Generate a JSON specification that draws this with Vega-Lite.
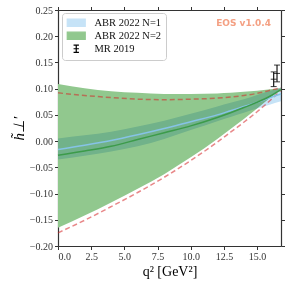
{
  "$schema": "https://vega.github.io/schema/vega-lite/v6.json",
  "autosize": "none",
  "width": 223,
  "height": 236,
  "padding": {"left": 58, "top": 10, "right": 9, "bottom": 44},
  "background": "white",
  "config": {
    "view": {"stroke": null},
    "axis": {
      "labelFont": "Liberation Serif", "labelFontSize": 10, "labelColor": "#333333",
      "domainColor": "#333333", "tickColor": "#333333", "domainWidth": 1.2,
      "tickWidth": 1, "tickSize": 3.5, "labelPadding": 2, "grid": false,
      "titleFont": "Liberation Serif", "titleFontWeight": "normal", "titleColor": "#000000"
    }
  },
  "datasets": {
    "bands": [
      {"q2": 0, "g_lo": -0.165, "g_hi": 0.109, "d_lo": -0.175, "d_hi": 0.092, "b_lo": -0.035, "b_hi": 0.005, "blue": -0.016, "green": -0.027},
      {"q2": 2, "g_lo": -0.142, "g_hi": 0.101, "d_lo": -0.151, "d_hi": 0.087, "b_lo": -0.028, "b_hi": 0.011, "blue": -0.008, "green": -0.019},
      {"q2": 4, "g_lo": -0.117, "g_hi": 0.095, "d_lo": -0.125, "d_hi": 0.083, "b_lo": -0.020, "b_hi": 0.018, "blue": 0.001, "green": -0.010},
      {"q2": 6, "g_lo": -0.091, "g_hi": 0.092, "d_lo": -0.098, "d_hi": 0.080, "b_lo": -0.010, "b_hi": 0.028, "blue": 0.012, "green": 0.003},
      {"q2": 8, "g_lo": -0.063, "g_hi": 0.090, "d_lo": -0.069, "d_hi": 0.079, "b_lo": 0.004, "b_hi": 0.039, "blue": 0.024, "green": 0.016},
      {"q2": 10, "g_lo": -0.031, "g_hi": 0.090, "d_lo": -0.037, "d_hi": 0.080, "b_lo": 0.021, "b_hi": 0.052, "blue": 0.037, "green": 0.029},
      {"q2": 12, "g_lo": 0.004, "g_hi": 0.091, "d_lo": -0.002, "d_hi": 0.082, "b_lo": 0.038, "b_hi": 0.066, "blue": 0.050, "green": 0.045},
      {"q2": 13, "g_lo": 0.023, "g_hi": 0.092, "d_lo": 0.017, "d_hi": 0.084, "b_lo": 0.046, "b_hi": 0.073, "blue": 0.058, "green": 0.054},
      {"q2": 14, "g_lo": 0.042, "g_hi": 0.094, "d_lo": 0.036, "d_hi": 0.087, "b_lo": 0.054, "b_hi": 0.080, "blue": 0.066, "green": 0.064},
      {"q2": 15, "g_lo": 0.062, "g_hi": 0.096, "d_lo": 0.056, "d_hi": 0.091, "b_lo": 0.062, "b_hi": 0.088, "blue": 0.074, "green": 0.074},
      {"q2": 16, "g_lo": 0.083, "g_hi": 0.099, "d_lo": 0.078, "d_hi": 0.097, "b_lo": 0.070, "b_hi": 0.096, "blue": 0.083, "green": 0.086},
      {"q2": 16.8, "g_lo": 0.099, "g_hi": 0.101, "d_lo": 0.097, "d_hi": 0.102, "b_lo": 0.076, "b_hi": 0.102, "blue": 0.090, "green": 0.098}
    ],
    "mr": [
      {"q2": 16.25, "lo": 0.104, "hi": 0.132, "c": 0.118},
      {"q2": 16.5, "lo": 0.113, "hi": 0.145, "c": 0.129}
    ]
  },
  "layer": [
    {
      "data": {"name": "bands"},
      "mark": {"type": "area", "interpolate": "monotone", "opacity": 1},
      "encoding": {
        "x": {"field": "q2", "type": "quantitative", "scale": {"domain": [0, 16.8], "nice": false, "zero": false},
              "axis": {"orient": "bottom", "values": [0, 2.5, 5, 7.5, 10, 12.5, 15], "format": ".1f", "title": "q² [GeV²]", "titleFontSize": 14, "titlePadding": 3}},
        "y": {"field": "g_lo", "type": "quantitative", "scale": {"domain": [-0.2, 0.25], "nice": false, "zero": false},
              "axis": {"orient": "left", "values": [-0.2, -0.15, -0.1, -0.05, 0, 0.05, 0.1, 0.15, 0.2, 0.25], "format": ".2f", "title": "h̃⊥′", "titleFontSize": 15, "titlePadding": 3, "titleFontStyle": "italic"}},
        "y2": {"field": "g_hi"},
        "color": {"datum": "ABR 2022 N=2", "type": "nominal",
          "scale": {"domain": ["ABR 2022 N=1", "ABR 2022 N=2", "MR 2019"], "range": ["#c6e3f7", "#91c88e", "#000000"]},
          "legend": {
            "orient": "none", "legendX": 4, "legendY": 3, "title": null,
            "padding": 4.5, "strokeColor": "#cccccc", "fillColor": "#ffffff", "cornerRadius": 3,
            "labelFont": "Liberation Serif", "labelFontSize": 10.5, "labelColor": "#111111",
            "symbolSize": 49, "symbolOffset": 4.5, "labelOffset": 13, "rowPadding": 0,
            "symbolOpacity": 1, "symbolStrokeWidth": 1.2,
            "symbolType": {"expr": "datum.value === 'MR 2019' ? 'M-0.77,-1.03H0.77M0,-1.03V1.03M-0.77,1.03H0.77M-0.77,0H0.77' : 'M-2.57,-1.03H2.57V1.03H-2.57Z'"},
            "symbolStrokeColor": {"expr": "datum.value === 'MR 2019' ? '#000000' : 'transparent'"}
          }}
      }
    },
    {
      "data": {"name": "bands"},
      "mark": {"type": "area", "interpolate": "monotone", "blend": "multiply", "opacity": 1},
      "encoding": {
        "x": {"field": "q2", "type": "quantitative", "axis": {"orient": "top", "values": [0, 2.5, 5, 7.5, 10, 12.5, 15], "labels": false, "title": null}},
        "y": {"field": "b_lo", "type": "quantitative", "axis": {"orient": "right", "values": [-0.2, -0.15, -0.1, -0.05, 0, 0.05, 0.1, 0.15, 0.2, 0.25], "labels": false, "title": null}},
        "y2": {"field": "b_hi"},
        "color": {"datum": "ABR 2022 N=1", "type": "nominal"}
      }
    },
    {
      "data": {"name": "bands"},
      "mark": {"type": "line", "interpolate": "monotone", "color": "#d62728", "opacity": 0.55, "strokeDash": [5, 3], "strokeWidth": 1.5},
      "encoding": {
        "x": {"field": "q2", "type": "quantitative", "axis": null},
        "y": {"field": "d_hi", "type": "quantitative", "axis": null}
      }
    },
    {
      "data": {"name": "bands"},
      "mark": {"type": "line", "interpolate": "monotone", "color": "#d62728", "opacity": 0.55, "strokeDash": [5, 3], "strokeWidth": 1.5},
      "encoding": {
        "x": {"field": "q2", "type": "quantitative", "axis": null},
        "y": {"field": "d_lo", "type": "quantitative", "axis": null}
      }
    },
    {
      "data": {"name": "bands"},
      "mark": {"type": "line", "interpolate": "monotone", "color": "#86c3e6", "strokeWidth": 1.5},
      "encoding": {
        "x": {"field": "q2", "type": "quantitative", "axis": null},
        "y": {"field": "blue", "type": "quantitative", "axis": null}
      }
    },
    {
      "data": {"name": "bands"},
      "mark": {"type": "line", "interpolate": "monotone", "color": "#3c9b4a", "strokeWidth": 1.5},
      "encoding": {
        "x": {"field": "q2", "type": "quantitative", "axis": null},
        "y": {"field": "green", "type": "quantitative", "axis": null}
      }
    },
    {
      "data": {"name": "mr"},
      "mark": {"type": "rule", "strokeWidth": 1.1},
      "encoding": {
        "x": {"field": "q2", "type": "quantitative", "axis": null},
        "y": {"field": "lo", "type": "quantitative", "axis": null},
        "y2": {"field": "hi"},
        "color": {"datum": "MR 2019", "type": "nominal"}
      }
    },
    {
      "data": {"name": "mr"},
      "transform": [{"fold": ["lo", "hi", "c"], "as": ["part", "val"]}],
      "mark": {"type": "tick", "orient": "horizontal", "size": 6, "thickness": 1.1},
      "encoding": {
        "x": {"field": "q2", "type": "quantitative", "axis": null},
        "y": {"field": "val", "type": "quantitative", "axis": null},
        "color": {"datum": "MR 2019", "type": "nominal"}
      }
    },
    {
      "data": {"values": [{"label": "EOS v1.0.4"}]},
      "mark": {"type": "text", "align": "right", "baseline": "middle", "font": "DejaVu Sans", "fontWeight": "bold", "fontSize": 9, "color": "#f4a083"},
      "encoding": {
        "x": {"datum": 16.05, "type": "quantitative", "axis": null},
        "y": {"datum": 0.2246, "type": "quantitative", "axis": null},
        "text": {"field": "label"}
      }
    }
  ],
  "resolve": {"axis": {"x": "independent", "y": "independent"}}
}
